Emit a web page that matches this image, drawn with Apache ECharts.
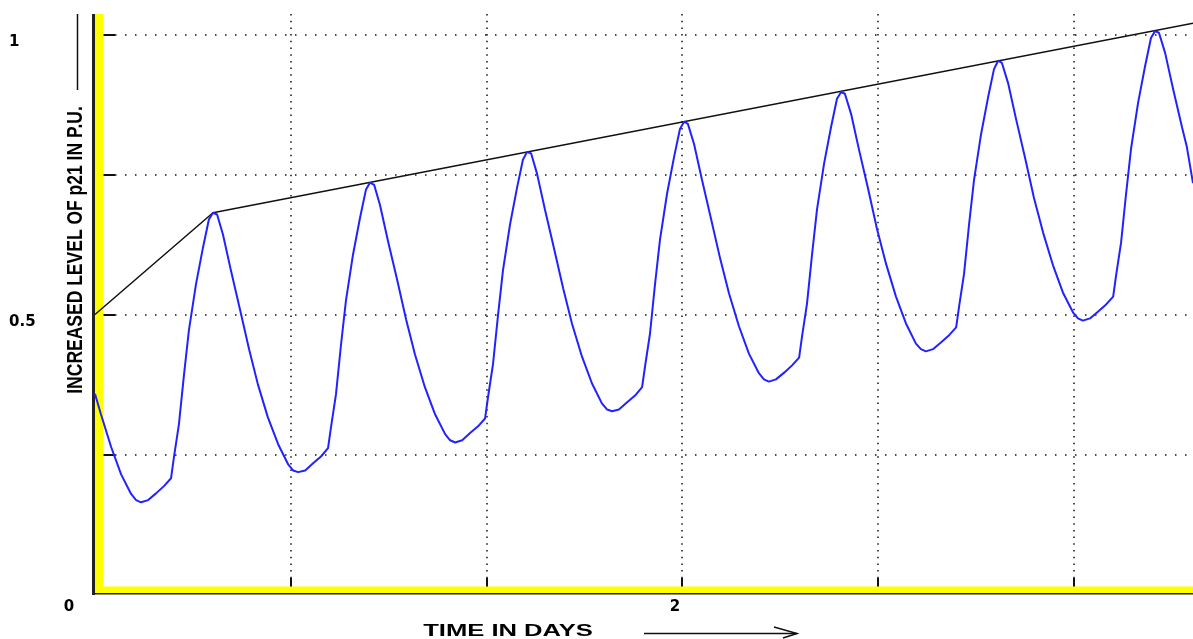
<!DOCTYPE html>
<html><head><meta charset="utf-8">
<script src="https://cdn.jsdelivr.net/npm/echarts@6/dist/echarts.min.js"></script>
<style>html,body{margin:0;padding:0;background:#fff;} #c{width:1193px;height:639px;}</style>
</head><body><div id="c"></div>
<script>
// ---- data ----
const timeDays = [
  0.000,0.020,0.055,0.089,0.123,0.140,0.157,0.181,0.208,0.235,0.259,0.269,0.286,0.303,0.320,0.344,0.368,0.388,
  0.402,0.416,0.436,0.463,0.494,0.525,0.555,0.589,0.624,0.658,0.675,0.692,0.716,0.743,0.770,0.794,0.804,0.821,0.838,0.855,0.879,0.903,0.923,
  0.937,0.951,0.971,0.998,1.029,1.060,1.090,1.124,1.159,1.193,1.210,1.227,1.251,1.278,1.305,1.329,1.339,1.356,1.373,1.390,1.414,1.438,1.458,
  1.472,1.486,1.506,1.533,1.564,1.595,1.625,1.659,1.693,1.727,1.745,1.762,1.785,1.813,1.840,1.864,1.874,1.891,1.908,1.925,1.949,1.973,1.993,
  2.007,2.020,2.041,2.068,2.099,2.130,2.160,2.194,2.228,2.262,2.279,2.296,2.320,2.348,2.375,2.399,2.409,2.426,2.443,2.460,2.484,2.508,2.528,
  2.542,2.555,2.576,2.603,2.634,2.664,2.695,2.729,2.763,2.797,2.814,2.831,2.855,2.882,2.910,2.934,2.944,2.961,2.978,2.995,3.019,3.043,3.063,
  3.077,3.090,3.111,3.138,3.169,3.199,3.230,3.264,3.298,3.332,3.349,3.366,3.390,3.417,3.445,3.469,3.479,3.496,3.513,3.530,3.554,3.578,3.598,
  3.612,3.625,3.646,3.673,3.704,3.720,3.741
];
const p21Level = [
  0.358,0.322,0.263,0.214,0.179,0.168,0.164,0.168,0.180,0.193,0.207,0.245,0.304,0.391,0.472,0.554,0.620,0.670,
  0.682,0.679,0.643,0.579,0.509,0.438,0.375,0.316,0.268,0.232,0.221,0.218,0.221,0.234,0.246,0.261,0.298,0.357,0.445,0.525,0.607,0.673,0.723,
  0.736,0.732,0.696,0.632,0.563,0.491,0.429,0.370,0.321,0.286,0.275,0.271,0.275,0.288,0.300,0.314,0.352,0.411,0.498,0.579,0.661,0.727,0.777,
  0.791,0.788,0.752,0.688,0.618,0.547,0.484,0.425,0.377,0.341,0.330,0.327,0.330,0.343,0.355,0.370,0.407,0.466,0.554,0.634,0.716,0.782,0.832,
  0.845,0.841,0.805,0.741,0.671,0.600,0.538,0.479,0.430,0.395,0.384,0.380,0.384,0.396,0.409,0.423,0.461,0.520,0.607,0.688,0.770,0.836,0.886,
  0.898,0.895,0.859,0.795,0.725,0.654,0.591,0.532,0.484,0.448,0.438,0.434,0.438,0.450,0.463,0.477,0.514,0.573,0.661,0.741,0.823,0.889,0.939,
  0.954,0.950,0.914,0.850,0.780,0.709,0.647,0.588,0.539,0.504,0.493,0.489,0.493,0.505,0.518,0.532,0.570,0.629,0.716,0.797,0.879,0.945,0.995,
  1.007,1.004,0.968,0.904,0.834,0.800,0.735
];
const envelopeDays  = [0, 0.402, 3.741];
const envelopeLevel = [0.5, 0.682, 1.021];

const xMin = 0, xMax = 3.741, xTickStep = 2 / 3;
const yMin = 0, yMax = 1.0376, yTickStep = 0.25;
const xTickValues = [2/3, 4/3, 2, 8/3, 10/3];
const yTickValues = [0.25, 0.5, 0.75, 1];
const xLabelValues = [0, 2];
const yLabelValues = [0.5, 1];
const xAxisTitle = 'TIME IN DAYS';
const yAxisTitle = 'INCREASED LEVEL OF p21 IN P.U.';

const near = (arr, v) => arr.some(a => Math.abs(a - v) < 1e-6);
const labelFont = {fontFamily: 'DejaVu Sans', fontWeight: 'bold', fontSize: 15, color: '#000'};

const chart = echarts.init(document.getElementById('c'), null, {renderer: 'canvas'});
chart.setOption({
  animation: false,
  backgroundColor: '#ffffff',
  grid: {left: 95, right: 0, top: 14, bottom: 45, containLabel: false},
  xAxis: {
    type: 'value', min: xMin, max: xMax, interval: xTickStep,
    axisLine: {show: false},
    axisTick: {show: true, inside: true, length: 16, customValues: xTickValues,
               lineStyle: {color: '#111', width: 2}},
    axisLabel: {
      show: true, margin: 6, customValues: xLabelValues,
      formatter: v => near(xLabelValues, v) ? (Math.abs(v) < 1e-6 ? '{z|0}' : '{t|' + Math.round(v) + '}') : '',
      rich: {
        z: Object.assign({padding: [0, 52, 0, 0]}, labelFont),
        t: Object.assign({padding: [0, 14, 0, 0]}, labelFont)
      }
    },
    splitLine: {show: true, lineStyle: {color: '#111', width: 1.5, type: [1.5, 5.2]}}
  },
  yAxis: {
    type: 'value', min: yMin, max: yMax, interval: yTickStep,
    axisLine: {show: false},
    axisTick: {show: true, inside: true, length: 20, customValues: yTickValues,
               lineStyle: {color: '#111', width: 2}},
    axisLabel: Object.assign({
      show: true, margin: 86, align: 'left', verticalAlign: 'top', customValues: yLabelValues,
      formatter: v => near(yLabelValues, v) ? String(v) : ''
    }, labelFont),
    splitLine: {show: true, lineStyle: {color: '#111', width: 1.5, type: [1.5, 8.5]}}
  },
  graphic: [
    {type: 'rect', z: 1, shape: {x: 92, y: 14, width: 3, height: 581}, style: {fill: '#222'}},
    {type: 'rect', z: 1, shape: {x: 92, y: 592.5, width: 1101, height: 2}, style: {fill: '#222'}},
    {type: 'rect', z: 1, shape: {x: 95, y: 14, width: 8.5, height: 579}, style: {fill: '#ffff00'}},
    {type: 'rect', z: 1, shape: {x: 95, y: 586.5, width: 1098, height: 6.5}, style: {fill: '#ffff00'}},
    {type: 'line', z: 1, shape: {x1: 77.5, y1: 14, x2: 77.5, y2: 90}, style: {stroke: '#111', lineWidth: 1.5}},
    {type: 'text', z: 1, x: 76, y: 250, rotation: Math.PI / 2, scaleY: 1.28,
     style: {text: yAxisTitle, font: 'bold 17.5px "Liberation Sans"', fill: '#000', align: 'center', verticalAlign: 'middle'}},
    {type: 'text', z: 1, x: 508, y: 632, scaleX: 1.6,
     style: {text: xAxisTitle, font: 'bold 16px "Liberation Sans"', fill: '#000', align: 'center', verticalAlign: 'middle'}},
    {type: 'polyline', z: 1, shape: {points: [[644, 633.5], [797, 633.5]]}, style: {stroke: '#111', lineWidth: 1.5, fill: null}},
    {type: 'polyline', z: 1, shape: {points: [[774, 627], [797, 633.5], [783, 638]]}, style: {stroke: '#111', lineWidth: 1.5, fill: null}}
  ],
  series: [
    {
      type: 'line', name: 'envelope', z: 3,
      data: envelopeDays.map((d, i) => [d, envelopeLevel[i]]),
      showSymbol: false, lineStyle: {color: '#111', width: 1.5}
    },
    {
      type: 'line', name: 'p21', z: 4,
      data: timeDays.map((d, i) => [d, p21Level[i]]),
      showSymbol: false, smooth: false,
      lineStyle: {color: '#2222ff', width: 2}
    }
  ]
});
</script></body></html>
